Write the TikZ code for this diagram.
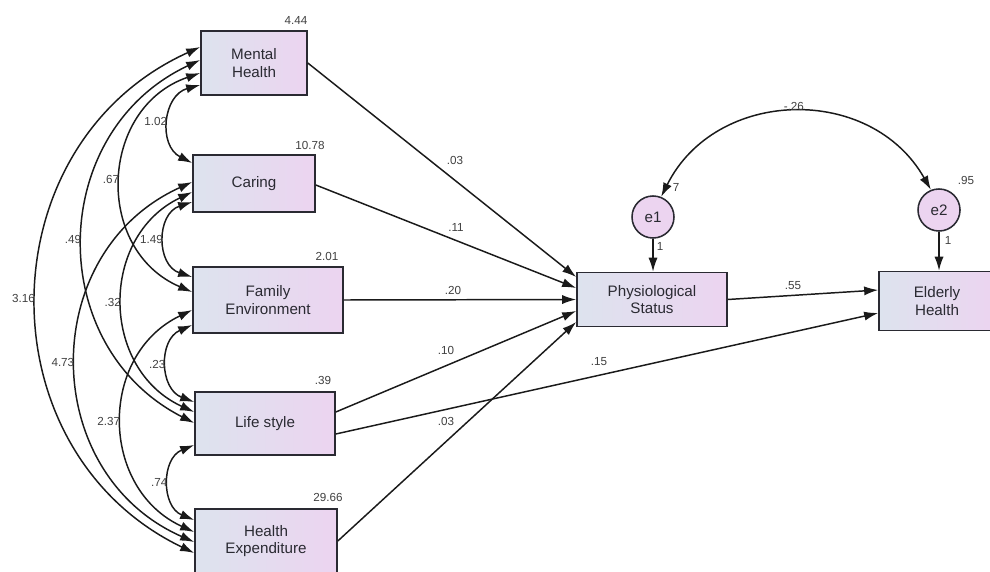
\documentclass[tikz,border=0pt]{standalone}
\usepackage{fontspec}
\setmainfont{Liberation Sans}
\usetikzlibrary{arrows.meta,calc}

\definecolor{boxleft}{HTML}{DDE3EE}
\definecolor{boxright}{HTML}{ECD4F0}
\definecolor{ink}{HTML}{2A2A32}
\definecolor{wire}{HTML}{1A1A1A}
\definecolor{numgray}{HTML}{404040}

\tikzset{
	var/.style={draw=ink, line width=1.1pt, left color=boxleft, right color=boxright,
		align=center, text=ink, inner sep=0pt, font=\fontsize{10.8}{12.5}\selectfont},
	err/.style={circle, draw=ink, line width=1.1pt, fill=boxright, minimum size=1.05cm,
		inner sep=0pt, text=ink, font=\fontsize{10.8}{12.5}\selectfont},
	num/.style={text=numgray, inner sep=1pt, font=\fontsize{8.3}{9}\selectfont},
	effect/.style={draw=wire, line width=1.05pt, -{Latex[length=10pt,width=6.5pt]}},
	cov/.style={draw=wire, line width=1.05pt,
		{Latex[length=10pt,width=6.5pt]}-{Latex[length=10pt,width=6.5pt]}},
}

\begin{document}
\begin{tikzpicture}[x=0.025cm, y=-0.025cm]
	\useasboundingbox (0, 0) rectangle (990, 571);

	% exogenous variables
	\node[var, minimum width=2.65cm, minimum height=1.6cm] (mh) at (254, 63) {Mental\\Health};
	\node[var, minimum width=3.05cm, minimum height=1.425cm] (ca) at (254, 183.5) {Caring};
	\node[var, minimum width=3.75cm, minimum height=1.65cm] (fe) at (268, 300) {Family\\Environment};
	\node[var, minimum width=3.5cm, minimum height=1.575cm] (ls) at (265, 423.5) {Life style};
	\node[var, minimum width=3.55cm, minimum height=1.6cm] (he) at (266, 541) {Health\\Expenditure};

	% endogenous variables and errors
	\node[var, minimum width=3.75cm, minimum height=1.35cm] (ps) at (652, 299.5) {Physiological\\Status};
	\node[var, minimum width=2.9cm, minimum height=1.475cm] (eh) at (937, 301) {Elderly\\Health};
	\node[err] (e1) at (653, 217) {e1};
	\node[err] (e2) at (939, 210) {e2};

	% covariances
	\draw[cov, bend right=69, looseness=1.26] ($(mh.west)+(0, 22)$) to node[num, midway, left] {1.02} ($(ca.west)+(0, -20.5)$);
	\draw[cov, bend right=69, looseness=1.25] ($(mh.west)+(0, 10)$) to node[num, midway, left] {.67} ($(fe.west)+(0, -8)$);
	\draw[cov, bend right=64, looseness=1.19] ($(mh.west)+(0, -3)$) to node[num, midway, left] {.49} ($(ls.west)+(0, -0.5)$);
	\draw[cov, bend right=65, looseness=1.19] ($(mh.west)+(0, -16)$) to node[num, midway, left] {3.16} ($(he.west)+(0, 12)$);
	\draw[cov, bend right=72, looseness=1.3] ($(ca.west)+(0, 18.5)$) to node[num, midway, left] {1.49} ($(fe.west)+(0, -23)$);
	\draw[cov, bend right=65, looseness=1.2] ($(ca.west)+(0, 8.5)$) to node[num, midway, left] {.32} ($(ls.west)+(0, -11.5)$);
	\draw[cov, bend right=66, looseness=1.21] ($(ca.west)+(0, -1.5)$) to node[num, midway, left] {4.73} ($(he.west)+(0, 1)$);
	\draw[cov, bend right=68, looseness=1.23] ($(fe.west)+(0, 25)$) to node[num, midway, left] {.23} ($(ls.west)+(0, -21.5)$);
	\draw[cov, bend right=65, looseness=1.2] ($(fe.west)+(0, 10)$) to node[num, midway, left] {2.37} ($(he.west)+(0, -9)$);
	\draw[cov, bend right=68, looseness=1.22] ($(ls.west)+(0, 21.5)$) to node[num, midway, left] {.74} ($(he.west)+(0, -21)$);
	\draw[cov, bend left=62, looseness=1.155] (e1.68) to node[num, midway, above] {-.26} (e2.112);

	% regression paths
	\draw[effect] (mh.east) -- ($(ps.west)+(0, -22.5)$);
	\draw[effect] ($(ca.east)+(0, 1.5)$) -- ($(ps.west)+(0, -11.5)$);
	\draw[effect] (fe.east) -- (ps.west);
	\draw[effect] ($(ls.east)+(0, -11.5)$) -- ($(ps.west)+(0, 11.5)$);
	\draw[effect] ($(ls.east)+(0, 10.5)$) -- ($(eh.west)+(0, 12)$);
	\draw[effect] (he.east) -- ($(ps.west)+(0, 22.5)$);
	\draw[effect] (ps.east) -- ($(eh.west)+(0, -11)$);
	\draw[effect] (e1.south) -- (e1.south |- ps.north);
	\draw[effect] (e2.south) -- (e2.south |- eh.north);

	% weights
	\node[num] (wmh) at (455, 160) {.03};
	\node[num] (wca) at (456, 227) {.11};
	\node[num] (wfe) at (453, 290) {.20};
	\node[num] (wls) at (446, 350) {.10};
	\node[num] (wlse) at (599, 362) {.15};
	\node[num] (whe) at (446, 421) {.03};
	\node[num] (wps) at (793, 286) {.55};
	\node[num] (we1) at (660, 246) {1};
	\node[num] (we2) at (948, 240) {1};

	% variances
	\node[num] (vmh) at (296, 20) {4.44};
	\node[num] (vca) at (310, 145) {10.78};
	\node[num] (vfe) at (327, 256) {2.01};
	\node[num] (vls) at (323, 380) {.39};
	\node[num] (vhe) at (328, 497) {29.66};
	\node[num] (ve1) at (676, 187) {7};
	\node[num] (ve2) at (966, 180) {.95};
\end{tikzpicture}
\end{document}
